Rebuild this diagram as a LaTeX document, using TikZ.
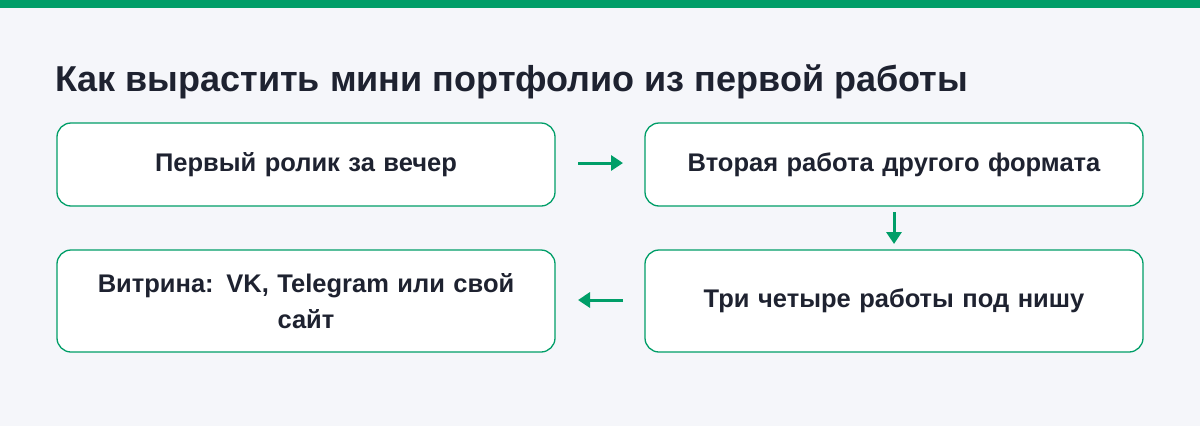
\documentclass[tikz,border=0pt]{standalone}
\usepackage{fontspec}
\setmainfont{Liberation Sans}
\usetikzlibrary{arrows.meta}
\definecolor{bg}{HTML}{F5F6FA}
\definecolor{gr}{HTML}{009E68}
\definecolor{tx}{HTML}{1E2230}
\begin{document}
\begin{tikzpicture}[x=1pt,y=-1pt,
  box/.style={draw=gr,line width=1.3pt,fill=white,rounded corners=14pt,minimum width=498pt,text width=440pt,align=center,font=\fontsize{25.5}{36}\selectfont\bfseries,text=tx,inner sep=0pt},
  arr/.style={draw=gr,line width=3pt,-{Triangle[length=12pt,width=15pt]}}]
\fill[bg] (0,0) rectangle (1200,426);
\fill[gr] (0,0) rectangle (1200,8);
\node[anchor=base west,font=\fontsize{36}{42}\selectfont\bfseries,text=tx,inner sep=0pt] (title) at (55,91) {Как вырастить мини портфолио из первой работы};
\node[box,minimum height=83pt] (b1) at (306,164.5) {Первый ролик за вечер};
\node[box,minimum height=83pt] (b2) at (894,164.5) {Вторая работа другого формата};
\node[box,minimum height=102pt] (b3) at (306,301) {Витрина: VK, Telegram или свой\\сайт};
\node[box,minimum height=102pt] (b4) at (894,301) {Три четыре работы под нишу};
\coordinate (a1) at (578,163); \coordinate (a2) at (623,163);
\draw[arr] (a1) -- (a2);
\coordinate (d1) at (894,212); \coordinate (d2) at (894,244);
\draw[arr] (d1) -- (d2);
\coordinate (l1) at (623,300); \coordinate (l2) at (578,300);
\draw[arr] (l1) -- (l2);
\end{tikzpicture}
\end{document}
